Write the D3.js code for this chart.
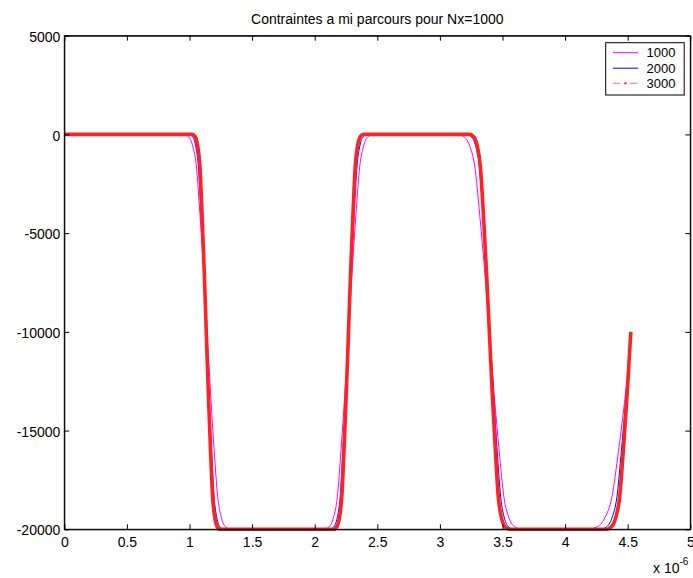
<!DOCTYPE html>
<html>
<head>
<meta charset="utf-8">
<script src="https://cdn.jsdelivr.net/npm/d3@7"></script>
<style>
  html, body { margin: 0; padding: 0; background: #fff; }
  svg { display: block; }
  text { font-family: "Liberation Sans", Arial, Helvetica, sans-serif; fill: #000; }
</style>
</head>
<body>
<svg id="chart" width="693" height="578"></svg>
<script>
// ---- data (x in units of 1e-6) ----
const title = "Contraintes a mi parcours pour Nx=1000";
const seriesNames = ["1000", "2000", "3000"];
const xTicks = [0, 0.5, 1, 1.5, 2, 2.5, 3, 3.5, 4, 4.5, 5];
const yTicks = [5000, 0, -5000, -10000, -15000, -20000];

const x1000 = [0,
  0.950, 0.988, 1.026, 1.055, 1.083, 1.112, 1.140, 1.169, 1.197, 1.226, 1.254, 1.292, 1.330,
  2.070, 2.110, 2.150, 2.180, 2.210, 2.240, 2.270, 2.300, 2.330, 2.360, 2.390, 2.430, 2.470,
  3.135, 3.187, 3.239, 3.278, 3.317, 3.356, 3.395, 3.434, 3.473, 3.512, 3.551, 3.603, 3.655,
  4.175, 4.247, 4.319, 4.373, 4.427, 4.481, 4.525];
const y1000 = [0,
  0, -100, -600, -1600, -4000, -6800, -10000, -13200, -16000, -18400, -19400, -19900, -20000,
  -20000, -19900, -19400, -18400, -16000, -13200, -10000, -6800, -4000, -1600, -600, -100, 0,
  0, -100, -600, -1600, -4000, -6800, -10000, -13200, -16000, -18400, -19400, -19900, -20000,
  -20000, -19900, -19400, -18400, -16000, -13200, -10400];

const x2000 = [0,
  0.994, 1.022, 1.050, 1.071, 1.092, 1.113, 1.134, 1.155, 1.176, 1.197, 1.218, 1.246, 1.274,
  2.120, 2.150, 2.180, 2.203, 2.225, 2.248, 2.270, 2.293, 2.315, 2.338, 2.360, 2.390, 2.420,
  3.210, 3.248, 3.286, 3.315, 3.343, 3.372, 3.400, 3.429, 3.457, 3.486, 3.514, 3.552, 3.590,
  4.275, 4.325, 4.375, 4.413, 4.450, 4.488, 4.525];
const y2000 = [0,
  0, -100, -600, -1600, -4000, -6800, -10000, -13200, -16000, -18400, -19400, -19900, -20000,
  -20000, -19900, -19400, -18400, -16000, -13200, -10000, -6800, -4000, -1600, -600, -100, 0,
  0, -100, -600, -1600, -4000, -6800, -10000, -13200, -16000, -18400, -19400, -19900, -20000,
  -20000, -19900, -19400, -18400, -16000, -13200, -10000];

const x3000 = [0,
  1.021, 1.044, 1.066, 1.083, 1.100, 1.117, 1.134, 1.151, 1.168, 1.185, 1.202, 1.224, 1.247,
  2.150, 2.174, 2.198, 2.216, 2.234, 2.252, 2.270, 2.288, 2.306, 2.324, 2.342, 2.366, 2.390,
  3.235, 3.267, 3.299, 3.323, 3.347, 3.371, 3.395, 3.419, 3.443, 3.467, 3.491, 3.523, 3.555,
  4.325, 4.365, 4.405, 4.435, 4.465, 4.495, 4.525];
const y3000 = [0,
  0, -100, -600, -1600, -4000, -6800, -10000, -13200, -16000, -18400, -19400, -19900, -20000,
  -20000, -19900, -19400, -18400, -16000, -13200, -10000, -6800, -4000, -1600, -600, -100, 0,
  0, -100, -600, -1600, -4000, -6800, -10000, -13200, -16000, -18400, -19400, -19900, -20000,
  -20000, -19900, -19400, -18400, -16000, -13200, -10000];

// ---- layout ----
const L = 64.3, R = 690.3, T = 35.7, B = 529.3;
const svg = d3.select("#chart");
const x = d3.scaleLinear().domain([0, 5]).range([L, R]);
const y = d3.scaleLinear().domain([-20000, 5000]).range([B, T]);

const series = [
  { name: seriesNames[0], xs: x1000, ys: y1000, color: "#ff00ff", width: 1 },
  { name: seriesNames[1], xs: x2000, ys: y2000, color: "#0000ff", width: 1 },
  { name: seriesNames[2], xs: x3000, ys: y3000, color: "#ff2222", width: 3.6 }
];

const line = d3.line().x(d => x(d[0])).y(d => y(d[1])).curve(d3.curveMonotoneX);

const plot = svg.append("g");
series.forEach(s => {
  const pts = s.xs.map((v, i) => [v, s.ys[i]]);
  plot.append("path").datum(pts)
    .attr("fill", "none")
    .attr("stroke", s.color)
    .attr("stroke-width", s.width)
    .attr("stroke-linejoin", "round")
    .attr("d", line);
});

// ---- axes (ticks inside on all four sides) ----
const tickLen = 5;
const axG = svg.append("g");
const fmt = d => String(d);

const xb = axG.append("g").attr("transform", `translate(0,${B})`)
  .call(d3.axisBottom(x).tickValues(xTicks).tickSizeInner(-tickLen).tickSizeOuter(0).tickPadding(8).tickFormat(fmt));
const xt = axG.append("g").attr("transform", `translate(0,${T})`)
  .call(d3.axisTop(x).tickValues(xTicks).tickSizeInner(-tickLen).tickSizeOuter(0).tickFormat(""));
const yl = axG.append("g").attr("transform", `translate(${L},0)`)
  .call(d3.axisLeft(y).tickValues(yTicks).tickSizeInner(-tickLen).tickSizeOuter(0).tickPadding(4).tickFormat(fmt));
const yr = axG.append("g").attr("transform", `translate(${R},0)`)
  .call(d3.axisRight(y).tickValues(yTicks).tickSizeInner(-tickLen).tickSizeOuter(0).tickFormat(""));

axG.selectAll(".domain").attr("stroke", "#000");
axG.selectAll(".tick line").attr("stroke", "#000");
axG.selectAll(".tick text").attr("font-size", 14).attr("fill", "#000")
  .attr("font-family", "'Liberation Sans', Arial, sans-serif");
xb.selectAll(".tick text").attr("dy", "0.71em");
yl.selectAll(".tick text").attr("dy", "0.4em");

// frame
svg.append("rect").attr("x", L).attr("y", T).attr("width", R - L).attr("height", B - T)
  .attr("fill", "none").attr("stroke", "#000").attr("stroke-width", 1);

// exponent label
const ex = svg.append("text").attr("x", 653).attr("y", 573).attr("font-size", 14);
ex.append("tspan").text("x 10");
ex.append("tspan").attr("font-size", 10).attr("dy", -8).text("-6");

// title
svg.append("text").attr("x", (L + R) / 2).attr("y", 24).attr("text-anchor", "middle")
  .attr("font-size", 14).text(title);

// ---- legend ----
const lg = svg.append("g");
lg.append("rect").attr("x", 605.7).attr("y", 42.7).attr("width", 78.5).attr("height", 52.3)
  .attr("fill", "#fff").attr("stroke", "#000").attr("stroke-width", 1);
const rowY = [52.7, 68.2, 83.3];
series.forEach((s, i) => {
  const ly = rowY[i];
  const ln = lg.append("line").attr("x1", 613).attr("x2", 638).attr("y1", ly).attr("y2", ly)
    .attr("stroke", i === 2 ? "#ff7070" : s.color).attr("stroke-width", 1);
  if (i === 2) {
    ln.attr("stroke-dasharray", "7,4,2,4");
    lg.append("rect").attr("x", 624.5).attr("y", ly - 1).attr("width", 2).attr("height", 2).attr("fill", "#ff2222");
  }
  lg.append("text").attr("x", 646.5).attr("y", ly).attr("dy", "0.36em").attr("font-size", 13).text(s.name);
});
</script>
</body>
</html>
